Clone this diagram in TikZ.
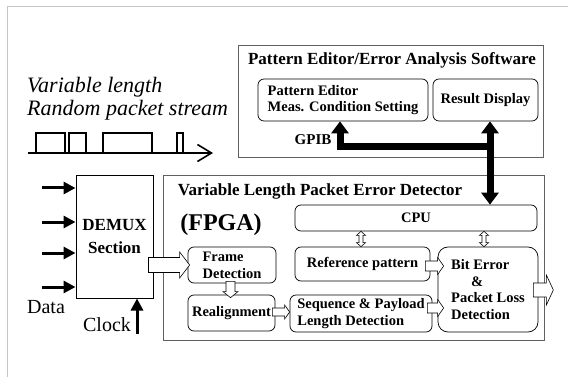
\documentclass[tikz,border=0pt]{standalone}
\usepackage{fontspec}
\setmainfont{Liberation Serif}
\usetikzlibrary{arrows.meta,calc}
\newcommand\ttlfont{\fontsize{17}{19}\selectfont\bfseries}
\newcommand\bxfont{\fontsize{14.5}{16.5}\selectfont\bfseries}
% rightward hollow arrow: #1 start, #2 tip, #3 shaft half, #4 head half, #5 head length
\newcommand\hollowR[5]{\draw[hollow] ($(#1)+(0,#3)$) -- ($(#2)+(-#5,#3)$) -- ($(#2)+(-#5,#4)$) -- (#2) -- ($(#2)+(-#5,-#4)$) -- ($(#2)+(-#5,-#3)$) -- ($(#1)+(0,-#3)$) -- cycle;}
% downward hollow arrow
\newcommand\hollowD[5]{\draw[hollow] ($(#1)+(#3,0)$) -- ($(#2)+(#3,-#5)$) -- ($(#2)+(#4,-#5)$) -- (#2) -- ($(#2)+(-#4,-#5)$) -- ($(#2)+(-#3,-#5)$) -- ($(#1)+(-#3,0)$) -- cycle;}
% vertical double hollow arrow: #1 top tip, #2 bottom tip
\newcommand\hollowUD[5]{\draw[hollow] (#1) -- ($(#1)+(#4,#5)$) -- ($(#1)+(#3,#5)$) -- ($(#2)+(#3,-#5)$) -- ($(#2)+(#4,-#5)$) -- (#2) -- ($(#2)+(-#4,-#5)$) -- ($(#2)+(-#3,-#5)$) -- ($(#1)+(-#3,#5)$) -- ($(#1)+(-#4,#5)$) -- cycle;}
\begin{document}
\begin{tikzpicture}[x=1pt,y=-1pt,
 box/.style={draw, rounded corners=6pt, line width=0.7pt, inner sep=0pt, font=\bxfont},
 outer/.style={draw=gray!75!black, line width=1pt, inner sep=0pt},
 hollow/.style={draw, fill=white, line width=0.6pt, line join=miter},
 din/.style={line width=3pt, -{Triangle[length=12pt,width=12pt]}},
 bus/.style={line width=7pt, line join=miter},
 bustip/.style={-{Triangle[length=12pt,width=17pt]}},
 pulse/.style={line width=1.6pt}]
\useasboundingbox (0,0) rectangle (568,377);
\draw[gray!45, line width=1pt] (7,377) -- (7,7) -- (568,7);

% software box
\node[outer, minimum width=305pt, minimum height=112pt] (sw) at (390.5,102) {};
\node[font=\ttlfont] (swt) at (392,60) {Pattern Editor/Error Analysis Software};
\node[box, minimum width=170pt, minimum height=42pt, align=left] (pe) at (343,100) {Pattern Editor\\Meas. Condition Setting};
\node[box, minimum width=105pt, minimum height=42pt] (rd) at (485.5,100) {Result Display};
\node[font=\fontsize{15}{17}\selectfont\bfseries] (gpib) at (313,140) {GPIB};

% detector box
\node[outer, minimum width=381pt, minimum height=164pt] (det) at (353.5,258) {};
\node[font=\ttlfont] (dett) at (320,191) {Variable Length Packet Error Detector};
\node[font=\fontsize{24}{26}\selectfont\bfseries] (fpga) at (221,225) {(FPGA)};
\node[box, minimum width=242pt, minimum height=26pt] (cpu) at (416,218) {CPU};
\node[box, minimum width=135pt, minimum height=34pt] (ref) at (362.5,264) {Reference pattern};
\node[box, minimum width=142pt, minimum height=37pt, align=left] (seq) at (361,313.5) {Sequence \& Payload\\Length Detection};
\node[box, rounded corners=10pt, minimum width=100pt, minimum height=85pt, align=left] (bit) at (488,289.5) {Bit Error\\\hspace{20pt}\&\\Packet Loss\\Detection};
\node[box, minimum width=88pt, minimum height=36pt, align=left, font=\fontsize{14.5}{17}\selectfont\bfseries] (fd) at (232,265) {Frame\\Detection};
\node[box, minimum width=87pt, minimum height=36pt] (re) at (231.5,313) {Realignment};

% demux
\node[draw, line width=1pt, minimum width=77pt, minimum height=122pt, inner sep=0pt, align=center, font=\fontsize{17}{23}\selectfont\bfseries] (demux) at (114.5,237) {DEMUX\\Section};
\foreach \i/\yy in {1/188,2/222,3/253,4/287} {
  \coordinate (d\i) at (42,\yy);
  \draw[din] (d\i) -- (d\i -| demux.west);
}
\node[font=\fontsize{20}{22}\selectfont] (data) at (46,307) {Data};
\node[font=\fontsize{20}{22}\selectfont] (clock) at (107,325) {Clock};
\coordinate (ck) at (137,334);
\draw[din] (ck) -- (ck |- demux.south);

% packet stream
\node[font=\fontsize{22}{24}\selectfont\itshape, anchor=west, inner sep=0pt] (vl) at (27,87) {Variable length};
\node[font=\fontsize{22}{24}\selectfont\itshape, anchor=west, inner sep=0pt] (rp) at (27,110) {Random packet stream};
\coordinate (ws) at (28,153);
\coordinate (we) at (213,153);
\draw[pulse] (36,133) rectangle (65,153);
\draw[pulse] (69,133) rectangle (86,153);
\draw[pulse] (103,133) rectangle (152,153);
\draw[pulse] (177,133) rectangle (183,153);
\draw[pulse, -{Straight Barb[length=14pt,width=17pt]}] (ws) -- (we);

% GPIB bus
\coordinate (j1) at (340,147);
\coordinate (j2) at (490,147);
\draw[bus, bustip] (j2) -- (j1) -- (j1 |- pe.south);
\draw[bus, {Triangle[length=12pt,width=17pt]}-{Triangle[length=12pt,width=17pt]}] (j2 |- rd.south) -- (j2 |- cpu.north);

% hollow arrows
\coordinate (a1s) at ($(demux.east |- fd.west)+(-5,0)$);
\coordinate (a1e) at ($(fd.west)+(2,0)$);
\hollowR{a1s}{a1e}{7.5}{13}{10}
\coordinate (a2s) at ($(ref.east)+(-5,2)$);
\coordinate (a2e) at ($(a2s -| bit.west)+(6,0)$);
\hollowR{a2s}{a2e}{5}{8.5}{6}
\coordinate (a3s) at ($(seq.east)+(-5,-5.5)$);
\coordinate (a3e) at ($(a3s -| bit.west)+(6,0)$);
\hollowR{a3s}{a3e}{5}{8.5}{6}
\coordinate (a4s) at ($(bit.east)+(-5,0.5)$);
\coordinate (out) at ($(a4s)+(20,0)$);
\hollowR{a4s}{out}{7}{15}{7}
\coordinate (a5s) at ($(fd.south)+(-1.5,-2)$);
\coordinate (a5e) at ($(a5s |- re.north)+(0,3)$);
\hollowD{a5s}{a5e}{4.5}{7.5}{6}
\coordinate (a6s) at ($(re.east)+(-3,-1)$);
\coordinate (a6e) at (a6s -| seq.west);
\hollowR{a6s}{a6e}{4}{7}{5}
\coordinate (a7t) at ($(cpu.south -| ref.north)+(-1.5,0)$);
\coordinate (a7b) at ($(ref.north)+(-1.5,0)$);
\hollowUD{a7t}{a7b}{2}{4.5}{4}
\coordinate (a8t) at ($(cpu.south -| bit.north)+(-4,0)$);
\coordinate (a8b) at ($(bit.north)+(-4,0)$);
\hollowUD{a8t}{a8b}{2}{4.5}{4}
\end{tikzpicture}
\end{document}
